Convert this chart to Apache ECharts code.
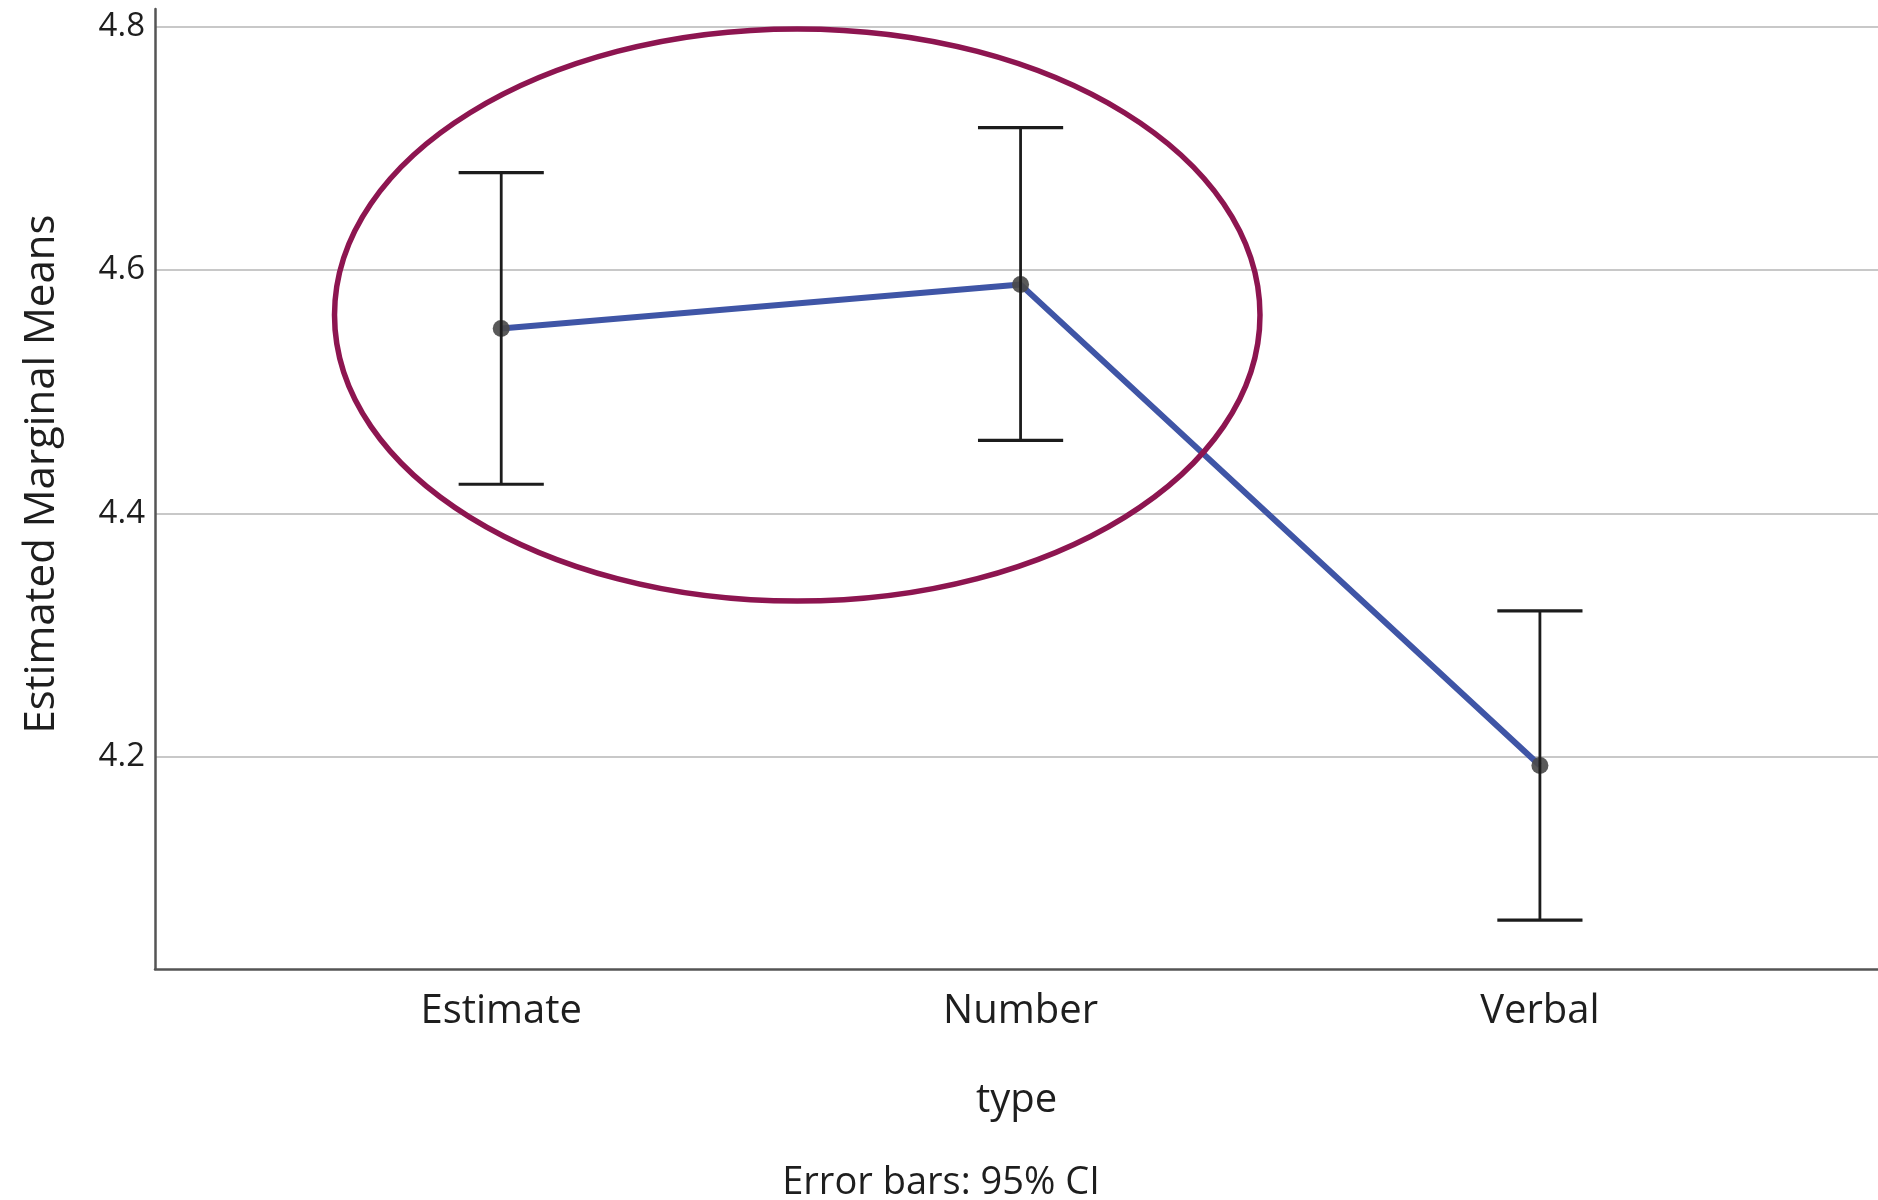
<!DOCTYPE html>
<html><head><meta charset="utf-8">
<script src="https://cdn.jsdelivr.net/npm/echarts@6/dist/echarts.min.js"></script>
<style>html,body{margin:0;padding:0;background:#fff}#c{width:1878px;height:1200px}</style>
</head><body><div id="c"></div>
<script>
const categories = ['Estimate', 'Number', 'Verbal'];
const means = [4.552, 4.588, 4.193];
const ciLower = [4.424, 4.460, 4.066];
const ciUpper = [4.680, 4.717, 4.320];
const yTicks = [4.2, 4.4, 4.6, 4.8];
const xTicks = [0, 1, 2];

// annotation ellipse in data units (center, radii)
const highlight = { cx: 0.570, cy: 4.563, rx: 0.891, ry: 0.235 };
const capHalf = 0.082;
const FONT = 'Open Sans';

const chart = echarts.init(document.getElementById('c'), null, { renderer: 'canvas' });
chart.setOption({
  animation: false,
  backgroundColor: '#ffffff',
  grid: { left: 155, right: 0, top: 9, bottom: 231, containLabel: false, outerBoundsMode: 'none' },
  xAxis: {
    type: 'value',
    min: -2 / 3,
    max: 2.651,
    name: 'type',
    nameLocation: 'middle',
    nameGap: 112,
    nameTextStyle: { fontFamily: FONT, fontSize: 40, color: '#1e1e1e' },
    axisLine: { onZero: false, lineStyle: { color: '#555', width: 2.5 } },
    axisTick: { show: false, customValues: xTicks },
    splitLine: { show: false },
    axisLabel: {
      customValues: xTicks,
      formatter: v => categories[Math.round(v)],
      fontFamily: FONT, fontSize: 40, color: '#1e1e1e', margin: 23
    }
  },
  yAxis: {
    type: 'value',
    min: 4.0258,
    max: 4.8144,
    name: 'Estimated Marginal Means',
    nameLocation: 'middle',
    nameGap: 92,
    nameTextStyle: { fontFamily: FONT, fontSize: 42, color: '#1e1e1e', padding: [0, 0, 0, 30] },
    axisLine: { show: true, onZero: false, lineStyle: { color: '#555', width: 2.5 } },
    axisTick: { show: false, customValues: yTicks },
    splitLine: { show: true, lineStyle: { color: '#c8c8c8', width: 2 } },
    axisLabel: {
      customValues: yTicks,
      formatter: v => v.toFixed(1),
      fontFamily: FONT, fontSize: 33, color: '#1e1e1e', margin: 10
    }
  },
  series: [
    {
      type: 'line',
      data: means.map((m, i) => [i, m]),
      lineStyle: { color: '#3f55a6', width: 6 },
      symbol: 'circle',
      symbolSize: 17,
      itemStyle: { color: 'rgba(75,75,75,0.92)' },
      z: 2
    },
    {
      type: 'custom',
      data: categories.map((c, i) => [i, ciLower[i], ciUpper[i]]),
      encode: { x: 0, y: [1, 2] },
      z: 3,
      renderItem: function (params, api) {
        const x = api.value(0);
        const lo = api.coord([x, api.value(1)]);
        const hi = api.coord([x, api.value(2)]);
        const hw = api.size([capHalf, 0])[0];
        const st = { stroke: '#1c1c1c', lineWidth: 2.8 };
        const cs = { stroke: '#1c1c1c', lineWidth: 3.2 };
        return {
          type: 'group',
          children: [
            { type: 'line', shape: { x1: lo[0], y1: lo[1], x2: hi[0], y2: hi[1] }, style: st },
            { type: 'line', shape: { x1: hi[0] - hw, y1: hi[1], x2: hi[0] + hw, y2: hi[1] }, style: cs },
            { type: 'line', shape: { x1: lo[0] - hw, y1: lo[1], x2: lo[0] + hw, y2: lo[1] }, style: cs }
          ]
        };
      }
    },
    {
      type: 'custom',
      data: [[highlight.cx, highlight.cy]],
      encode: { x: 0, y: 1 },
      z: 4,
      silent: true,
      renderItem: function (params, api) {
        const c = api.coord([api.value(0), api.value(1)]);
        const s = api.size([highlight.rx, highlight.ry]);
        return {
          type: 'ellipse',
          shape: { cx: c[0], cy: c[1], rx: s[0], ry: s[1] },
          style: { fill: 'none', stroke: '#8d1550', lineWidth: 5.5 }
        };
      }
    }
  ],
  graphic: [
    {
      type: 'text',
      x: 941,
      y: 1183,
      style: { text: 'Error bars: 95% CI', font: '38px "Open Sans"', fill: '#1e1e1e', align: 'center', verticalAlign: 'middle' }
    }
  ]
});
</script>
</body></html>
